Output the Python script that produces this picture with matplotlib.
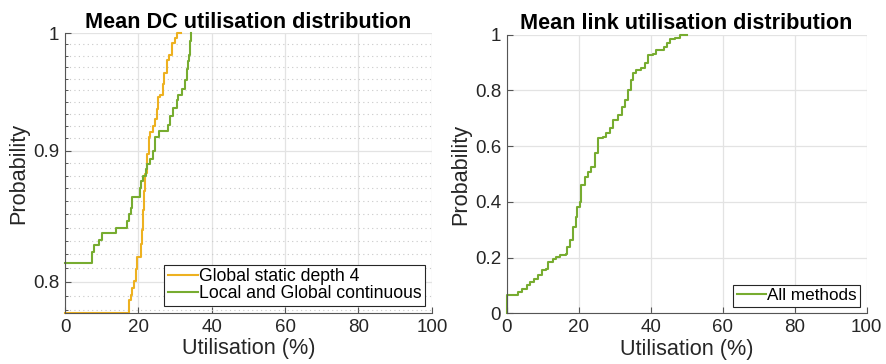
import numpy as np
import matplotlib
matplotlib.use("Agg")
import matplotlib.pyplot as plt
from matplotlib.ticker import FixedLocator, NullFormatter

plt.rcParams['font.family'] = ['Liberation Sans', 'DejaVu Sans']

# Mean DC utilisation (left panel), step curves
static_x = [0, 17.5, 17.9, 18.3, 18.8, 19.3, 19.5, 20.6, 21.0, 21.3, 21.6, 21.9, 22.2,
            22.4, 22.8, 23.2, 23.9, 24.5, 25.0, 25.4, 25.9, 26.6, 27.1, 27.7, 28.4,
            29.1, 30.0, 30.4, 31.6]
static_y = [0.778, 0.787, 0.791, 0.796, 0.801, 0.809, 0.818, 0.828, 0.838, 0.853, 0.868,
            0.881, 0.882, 0.897, 0.911, 0.915, 0.920, 0.926, 0.934, 0.944, 0.946, 0.955,
            0.965, 0.976, 0.981, 0.991, 0.996, 1.0, 1.0]

cont_x = [0, 7.4, 8.0, 9.3, 10.0, 13.8, 16.8, 17.4, 17.9, 18.3, 20.4, 20.8, 21.3, 22.1,
          22.4, 23.2, 23.9, 24.5, 25.7, 28.1, 28.6, 29.3, 30.4, 30.9, 31.8, 32.7, 33.2,
          33.6, 33.9, 34.2, 34.3]
cont_y = [0.814, 0.822, 0.827, 0.831, 0.836, 0.840, 0.845, 0.850, 0.855, 0.863, 0.870,
          0.876, 0.880, 0.885, 0.889, 0.893, 0.900, 0.911, 0.916, 0.921, 0.928, 0.935,
          0.942, 0.946, 0.951, 0.959, 0.968, 0.975, 0.981, 0.993, 1.0]

# Mean link utilisation (right panel)
link_x = [0, 0, 3.0, 4.1, 5.5, 6.4, 7.5, 8.7, 9.9, 10.8, 11.5, 12.9, 13.8, 14.7, 16.4,
          16.6, 17.5, 18.4, 19.2, 19.5, 20.3, 20.7, 21.7, 22.6, 23.5, 24.4, 25.4, 26.8,
          27.7, 28.6, 29.5, 30.9, 31.9, 32.8, 33.7, 34.6, 35.1, 36.0, 37.4, 38.3, 39.3,
          40.6, 41.6, 42.5, 43.6, 44.4, 45.3, 46.7, 48.1, 50.2]
link_y = [0, 0.066, 0.078, 0.086, 0.102, 0.114, 0.122, 0.138, 0.156, 0.161, 0.185, 0.194,
          0.201, 0.209, 0.212, 0.239, 0.263, 0.311, 0.347, 0.383, 0.401, 0.461, 0.490,
          0.508, 0.526, 0.574, 0.628, 0.634, 0.646, 0.664, 0.694, 0.712, 0.742, 0.766,
          0.801, 0.837, 0.861, 0.873, 0.879, 0.897, 0.927, 0.931, 0.943, 0.945, 0.957,
          0.971, 0.984, 0.988, 1.0, 1.0]

x_ticks = [0, 20, 40, 60, 80, 100]
orange = '#EDB120'
green = '#77AC30'
axcol = '#262626'


def style_axes(ax):
    ax.spines['top'].set_visible(False)
    ax.spines['right'].set_visible(False)
    for s in ['left', 'bottom']:
        ax.spines[s].set_color('#555555')
        ax.spines[s].set_linewidth(0.8)
    ax.tick_params(direction='in', length=4, width=0.8, colors='#555555',
                   labelcolor=axcol, labelsize=13.5, pad=4)
    ax.tick_params(which='minor', direction='in', length=2.5, width=0.7, colors='#555555')
    ax.grid(True, which='major', color='#e3e3e3', linewidth=0.9)
    ax.set_axisbelow(True)
    ax.set_xlim(0, 100)
    ax.set_xticks(x_ticks)
    ax.set_xlabel('Utilisation (%)', fontsize=15.6, color=axcol, labelpad=2)
    ax.set_ylabel('Probability', fontsize=15.6, color=axcol, labelpad=3)


fig = plt.figure(figsize=(8.86, 3.64), dpi=100)
ax1 = fig.add_axes([0.0734, 0.140, 0.414, 0.769])
ax2 = fig.add_axes([0.572, 0.139, 0.406, 0.766])

ax1.plot(static_x, static_y, drawstyle='steps-post', color=orange, lw=1.5,
         label='Global static depth 4', clip_on=False)
ax1.plot(cont_x, cont_y, drawstyle='steps-post', color=green, lw=1.5,
         label='Local and Global continuous', clip_on=False)
ax1.set_yscale('log')
ax1.set_ylim(0.778, 1)
style_axes(ax1)
ax1.yaxis.set_major_locator(FixedLocator([0.8, 0.9, 1.0]))
ax1.set_yticklabels(['0.8', '0.9', '1'])
minor = [round(v, 2) for v in np.arange(0.78, 1.0, 0.01) if round(v, 2) not in (0.8, 0.9)]
ax1.yaxis.set_minor_locator(FixedLocator(minor))
ax1.yaxis.set_minor_formatter(NullFormatter())
ax1.xaxis.set_minor_locator(FixedLocator([]))
ax1.grid(True, which='minor', axis='y', color='#c8c8c8', linestyle=(0, (1, 3)), linewidth=0.8)
ax1.set_title('Mean DC utilisation distribution', fontsize=15.6, fontweight='bold', pad=4)
leg1 = ax1.legend(loc='lower right', fontsize=12.7, frameon=True, fancybox=False,
                  edgecolor='#262626', framealpha=1, handlelength=1.7, handletextpad=0.05,
                  borderpad=0.2, labelspacing=0.0, borderaxespad=0.4)
leg1.get_frame().set_linewidth(0.8)

ax2.plot(link_x, link_y, drawstyle='steps-post', color=green, lw=1.5, label='All methods',
         clip_on=False)
ax2.set_ylim(0, 1)
style_axes(ax2)
ax2.set_yticks([0, 0.2, 0.4, 0.6, 0.8, 1.0])
ax2.set_yticklabels(['0', '0.2', '0.4', '0.6', '0.8', '1'])
ax2.set_title('Mean link utilisation distribution', fontsize=15.6, fontweight='bold', pad=4)
leg2 = ax2.legend(loc='lower right', fontsize=12.3, frameon=True, fancybox=False,
                  edgecolor='#262626', framealpha=1, handlelength=1.7, handletextpad=0.05,
                  borderpad=0.2, borderaxespad=0.4)
leg2.get_frame().set_linewidth(0.8)

fig.savefig('out.png', dpi=100)
